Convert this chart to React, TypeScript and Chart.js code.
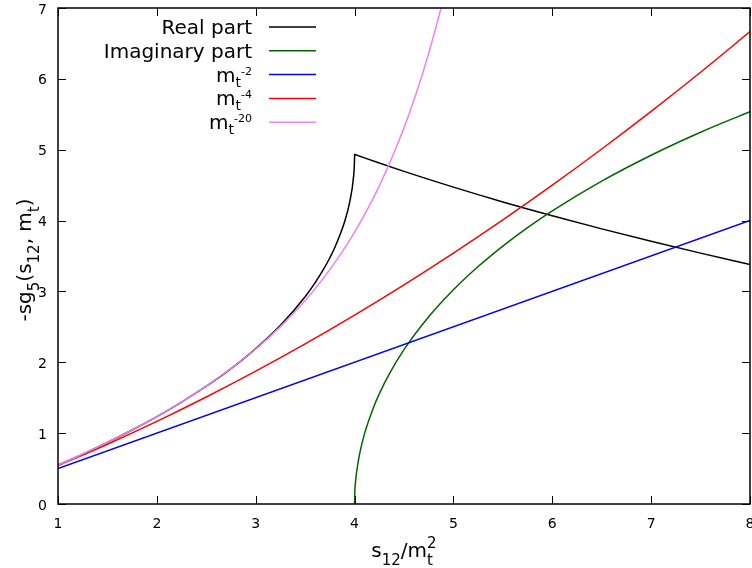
import React, { useEffect, useRef } from "react";
import { Chart, registerables } from "chart.js";

Chart.register(...registerables);

// ---- axis ticks ----
const xTicks = [1, 2, 3, 4, 5, 6, 7, 8];
const yTicks = [0, 1, 2, 3, 4, 5, 6, 7];

// ---- Real part ----
const realX = [1, 1.25, 1.5, 1.75, 2, 2.25, 2.5, 2.75, 3, 3.25, 3.5, 3.6, 3.7, 3.75, 3.8, 3.9, 3.95, 3.99, 3.999, 3.9999, 4, 4.001, 4.01, 4.05, 4.1, 4.25, 4.5, 4.75, 5, 5.25, 5.5, 5.75, 6, 6.5, 7, 7.5, 8];
const realY = [0.54831, 0.70377, 0.86871, 1.04469, 1.2337, 1.43842, 1.66253, 1.91139, 2.19325, 2.52209, 2.92543, 3.12023, 3.34572, 3.47486, 3.61957, 3.98757, 4.25596, 4.62551, 4.83595, 4.90343, 4.9348, 4.9343, 4.9298, 4.90991, 4.88521, 4.81232, 4.69458, 4.58115, 4.47167, 4.36584, 4.26338, 4.16404, 4.06761, 3.88271, 3.70737, 3.54049, 3.38116];

// ---- Imaginary part ----
const imagX = [4, 4.001, 4.01, 4.02, 4.05, 4.1, 4.2, 4.25, 4.35, 4.5, 4.75, 5, 5.25, 5.5, 5.75, 6, 6.5, 7, 7.5, 8];
const imagY = [0, 0.09934, 0.31403, 0.44392, 0.70104, 0.98937, 1.39351, 1.55488, 1.8325, 2.17759, 2.64213, 3.02354, 3.35125, 3.64052, 3.90055, 4.13737, 4.55716, 4.92227, 5.24621, 5.53785];

// ---- m_t^-2 ----
const m2X = [1, 8];
const m2Y = [0.5, 4];

// ---- m_t^-4 ----
const m4X = [1, 1.5, 2, 2.5, 3, 3.5, 4, 4.5, 5, 5.5, 6, 6.5, 7, 7.5, 8];
const m4Y = [0.541667, 0.84375, 1.166667, 1.510417, 1.875, 2.260417, 2.666667, 3.09375, 3.541667, 4.010417, 4.5, 5.010417, 5.541667, 6.09375, 6.666667];

// ---- m_t^-20 ----
const m20X = [1, 1.5, 2, 2.5, 3, 3.25, 3.5, 3.75, 4, 4.25, 4.5, 4.625, 4.75, 4.9, 5];
const m20Y = [0.54831, 0.86871, 1.23366, 1.66191, 2.18697, 2.50368, 2.87177, 3.30828, 3.83678, 4.48972, 5.31145, 5.80369, 6.36223, 7.13535, 7.72322];

const colors = ["#000000", "#006400", "#0000ff", "#ff0000", "#ee82ee"];

type Part = { n?: string; sub?: string; sup?: string };
type Style = { big: number; subSize: number; supSize: number; subDy: number; supDy: number };

const legendParts: Part[][] = [
  [{ n: "Real part" }],
  [{ n: "Imaginary part" }],
  [{ n: "m" }, { sub: "t" }, { sup: "-2" }],
  [{ n: "m" }, { sub: "t" }, { sup: "-4" }],
  [{ n: "m" }, { sub: "t" }, { sup: "-20" }],
];
const xTitleParts: Part[] = [{ n: "s" }, { sub: "12" }, { n: "/m" }, { sub: "t", sup: "2" }];
const yTitleParts: Part[] = [{ n: "-sg" }, { sub: "5" }, { n: "(s" }, { sub: "12" }, { n: ", m" }, { sub: "t" }, { n: ")" }];

const FONT = "'DejaVu Sans', sans-serif";
const titleStyle: Style = { big: 20, subSize: 15, supSize: 15, subDy: 8, supDy: -9 };
const legendStyle: Style = { big: 20, subSize: 14, supSize: 11, subDy: 5, supDy: -7 };

function partWidth(ctx: CanvasRenderingContext2D, p: Part, s: Style): number {
  if (p.n !== undefined) {
    ctx.font = `${s.big}px ${FONT}`;
    return ctx.measureText(p.n).width;
  }
  let a = 0;
  let b = 0;
  if (p.sub) {
    ctx.font = `${s.subSize}px ${FONT}`;
    a = ctx.measureText(p.sub).width;
  }
  if (p.sup) {
    ctx.font = `${s.supSize}px ${FONT}`;
    b = ctx.measureText(p.sup).width;
  }
  return Math.max(a, b);
}

function richWidth(ctx: CanvasRenderingContext2D, parts: Part[], s: Style): number {
  return parts.reduce((acc, p) => acc + partWidth(ctx, p, s), 0);
}

function drawRich(ctx: CanvasRenderingContext2D, parts: Part[], x: number, y: number, align: "left" | "right" | "center", s: Style) {
  const w = richWidth(ctx, parts, s);
  let cx = align === "left" ? x : align === "right" ? x - w : x - w / 2;
  ctx.textAlign = "left";
  ctx.textBaseline = "alphabetic";
  for (const p of parts) {
    const pw = partWidth(ctx, p, s);
    if (p.n !== undefined) {
      ctx.font = `${s.big}px ${FONT}`;
      ctx.fillText(p.n, cx, y);
    } else {
      if (p.sub) {
        ctx.font = `${s.subSize}px ${FONT}`;
        ctx.fillText(p.sub, cx, y + s.subDy);
      }
      if (p.sup) {
        ctx.font = `${s.supSize}px ${FONT}`;
        ctx.fillText(p.sup, cx, y + s.supDy);
      }
    }
    cx += pw;
  }
}

const decorPlugin = {
  id: "gnuplotDecor",
  afterDatasetsDraw(chart: any) {
    const ctx: CanvasRenderingContext2D = chart.ctx;
    const { left, right, top, bottom } = chart.chartArea;
    const xs = chart.scales.x;
    const ys = chart.scales.y;
    ctx.save();
    ctx.strokeStyle = "#000";
    ctx.fillStyle = "#000";
    ctx.lineWidth = 1.5;
    ctx.strokeRect(left, top, right - left, bottom - top);
    // ticks (inside, mirrored)
    ctx.lineWidth = 1;
    const TL = 8;
    ctx.beginPath();
    for (const v of xTicks) {
      const px = Math.round(xs.getPixelForValue(v)) + 0.5;
      ctx.moveTo(px, bottom);
      ctx.lineTo(px, bottom - TL);
      ctx.moveTo(px, top);
      ctx.lineTo(px, top + TL);
    }
    for (const v of yTicks) {
      const py = Math.round(ys.getPixelForValue(v)) + 0.5;
      ctx.moveTo(left, py);
      ctx.lineTo(left + TL, py);
      ctx.moveTo(right, py);
      ctx.lineTo(right - TL, py);
    }
    ctx.stroke();
    // tick labels
    ctx.font = `14px ${FONT}`;
    ctx.textBaseline = "alphabetic";
    ctx.textAlign = "right";
    for (const v of yTicks) {
      const py = ys.getPixelForValue(v);
      ctx.fillText(String(v), left - 11, py + 5.5);
    }
    ctx.textAlign = "center";
    for (const v of xTicks) {
      const px = xs.getPixelForValue(v);
      ctx.fillText(String(v), px, bottom + 24);
    }
    // axis titles
    drawRich(ctx, xTitleParts, (left + right) / 2, 557, "center", titleStyle);
    ctx.save();
    ctx.translate(31, (top + bottom) / 2 + 4);
    ctx.rotate(-Math.PI / 2);
    drawRich(ctx, yTitleParts, 0, 0, "center", titleStyle);
    ctx.restore();
    // legend
    for (let i = 0; i < legendParts.length; i++) {
      const ly = 27 + i * 23.8;
      ctx.fillStyle = "#000";
      drawRich(ctx, legendParts[i], 252, ly + 7, "right", legendStyle);
      ctx.strokeStyle = colors[i];
      ctx.lineWidth = 1.5;
      ctx.beginPath();
      ctx.moveTo(269, ly);
      ctx.lineTo(316, ly);
      ctx.stroke();
    }
    ctx.restore();
  },
};

function toPts(xs: number[], ys: number[]) {
  return xs.map((x, i) => ({ x, y: ys[i] }));
}

export default function App() {
  const ref = useRef<HTMLCanvasElement | null>(null);
  useEffect(() => {
    document.body.style.margin = "0";
    const canvas = ref.current;
    if (!canvas) return;
    const mk = (label: string, xs: number[], ys: number[], i: number, order: number) => ({
      label,
      data: toPts(xs, ys),
      borderColor: colors[i],
      backgroundColor: colors[i],
      borderWidth: 1.5,
      pointRadius: 0,
      fill: false,
      cubicInterpolationMode: "monotone" as const,
      order,
    });
    const chart = new Chart(canvas, {
      type: "line",
      data: {
        datasets: [
          mk("Real part", realX, realY, 0, 5),
          mk("Imaginary part", imagX, imagY, 1, 4),
          mk("m_t^-2", m2X, m2Y, 2, 3),
          mk("m_t^-4", m4X, m4Y, 3, 2),
          mk("m_t^-20", m20X, m20Y, 4, 1),
        ],
      },
      options: {
        animation: false,
        responsive: false,
        devicePixelRatio: 1,
        layout: { padding: { left: 58, right: 2, top: 8, bottom: 64 } },
        plugins: { legend: { display: false }, tooltip: { enabled: false } },
        scales: {
          x: { type: "linear", min: 1, max: 8, display: false, ticks: { stepSize: 1 } },
          y: { type: "linear", min: 0, max: 7, display: false, ticks: { stepSize: 1 } },
        },
      },
      plugins: [decorPlugin],
    });
    return () => chart.destroy();
  }, []);
  return (
    <div style={{ width: 752, height: 568, background: "#fff" }}>
      <canvas ref={ref} width={752} height={568} style={{ display: "block" }} />
    </div>
  );
}
